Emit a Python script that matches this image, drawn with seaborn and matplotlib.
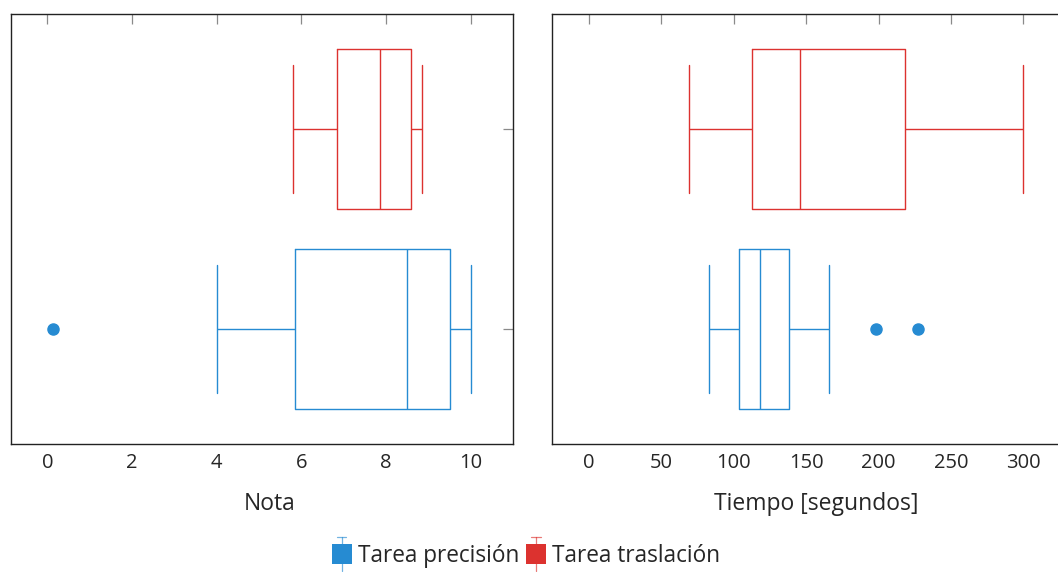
import numpy as np
import pandas as pd
import seaborn as sns
import matplotlib.pyplot as plt
from matplotlib.lines import Line2D
from matplotlib.legend_handler import HandlerBase

# raw observations (sorted), n = 13 per task
tareas = ["Tarea precisión", "Tarea traslación"]
nota_precision = [0.125, 4.0, 5.0, 5.85, 6.5, 7.5, 8.5, 9.0, 9.25, 9.5, 9.75, 10.0, 10.0]
nota_traslacion = [5.8, 6.2, 6.5, 6.85, 7.2, 7.5, 7.85, 8.0, 8.3, 8.6, 8.7, 8.8, 8.85]
tiempo_precision = [83, 90, 98, 104, 108, 113, 118, 124, 131, 138, 166, 198, 227]
tiempo_traslacion = [69, 80, 95, 113, 122, 135, 146, 165, 190, 218, 240, 270, 300]
nota_ticks = [0, 2, 4, 6, 8, 10]
tiempo_ticks = [0, 50, 100, 150, 200, 250, 300]

BLUE = "#268bd2"
RED = "#dc322f"
palette = {tareas[0]: BLUE, tareas[1]: RED}

df = pd.DataFrame({
    "tarea": [tareas[0]] * len(nota_precision) + [tareas[1]] * len(nota_traslacion),
    "nota": nota_precision + nota_traslacion,
    "tiempo": tiempo_precision + tiempo_traslacion,
})


class HandlerBox(HandlerBase):
    """pgfplots-like boxplot legend image: filled square with a whisker."""
    def create_artists(self, legend, orig_handle, xdescent, ydescent,
                       width, height, fontsize, trans):
        c = orig_handle.get_color()
        cx = -xdescent + width / 2
        cy = -ydescent + height / 2
        s = 14.4
        whisk = Line2D([cx, cx], [cy - 12.2, cy + 12.2], color=c, alpha=0.65,
                       lw=0.9, transform=trans)
        cap = Line2D([cx - 3.3, cx + 3.3], [cy + 12.2, cy + 12.2], color=c,
                     alpha=0.65, lw=0.9, transform=trans)
        sq = plt.Rectangle((cx - s / 2, cy - s / 2), s, s, facecolor=c,
                           edgecolor="none", transform=trans)
        return [whisk, cap, sq]


sns.set_style("white")
plt.rcParams["font.family"] = ["Open Sans", "DejaVu Sans"]

fig = plt.figure(figsize=(10.58, 5.72), dpi=100)
ax1 = fig.add_axes([11 / 1058, 127.7 / 572, 501.7 / 1058, 430.3 / 572])
ax2 = fig.add_axes([552.3 / 1058, 127.7 / 572, 528.7 / 1058, 430.3 / 572])

order = [tareas[1], tareas[0]]  # traslación on top
for ax, col, ticks, xlim, label, lx in [
    (ax1, "nota", nota_ticks, (-0.857, 10.99), "Nota", 0.516),
    (ax2, "tiempo", tiempo_ticks, (-25.1, 339.7), "Tiempo [segundos]", 0.5),
]:
    sns.boxplot(data=df, x=col, y="tarea", hue="tarea", order=order,
                palette=palette, saturation=1, fill=False, width=0.8,
                linewidth=1.0, legend=False, capwidths=0.64,
                flierprops=dict(marker="o", markersize=8,
                                markerfacecolor=BLUE, markeredgecolor=BLUE),
                ax=ax)
    ax.set_xlim(*xlim)
    ax.set_ylim(1.577, -0.577)
    ax.set_xticks(ticks)
    ax.set_xticklabels([str(t) for t in ticks])
    ax.set_yticklabels([])
    ax.set_ylabel("")
    ax.set_xlabel(label, fontsize=16.5, labelpad=14)
    ax.xaxis.label.set_x(lx)
    ax.tick_params(axis="both", direction="in", length=7.5, width=0.9,
                   color="#8a8a8a", top=True, right=True, labelsize=14.5,
                   pad=6)
    for sp in ax.spines.values():
        sp.set_visible(True)
        sp.set_color("#222222")
        sp.set_linewidth(1.0)

handles = [Line2D([], [], color=c) for c in [BLUE, RED]]
fig.legend(handles, tareas, handler_map={Line2D: HandlerBox()},
           loc="center", bbox_to_anchor=(0.497, 0.028), ncol=2, frameon=False,
           fontsize=16.3, handlelength=0.9, handletextpad=0.25, columnspacing=0.3)

fig.savefig("out.png", dpi=100)
